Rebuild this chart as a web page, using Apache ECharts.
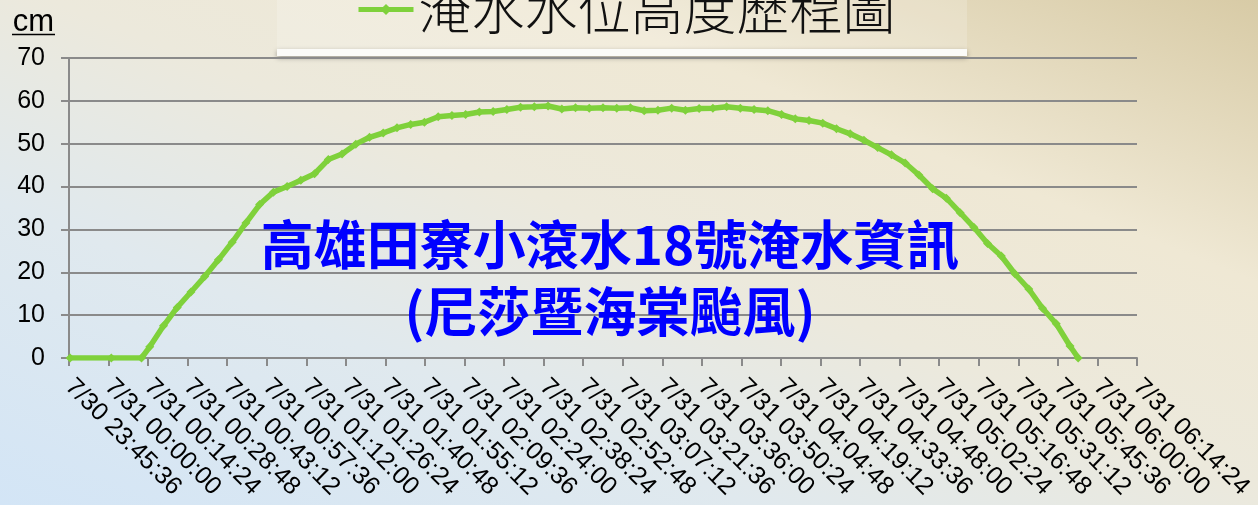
<!DOCTYPE html>
<html>
<head>
<meta charset="utf-8">
<script src="https://cdn.jsdelivr.net/npm/echarts@6/dist/echarts.min.js"></script>
<style>
  html, body { margin: 0; padding: 0; }
  #chart {
    width: 1258px; height: 505px;
    background: linear-gradient(to top right, #d3e5f6 0%, #e0e9ee 30%, #ece9dc 52%, #efe8d4 72%, #d8cba6 100%);
  }
</style>
</head>
<body>
<div id="chart"></div>
<script>
// Flood depth record at 小滾水 No.18, 田寮 district, Kaohsiung
const seriesName = '淹水水位高度歷程圖';
const unitLabel = 'cm';
const noteLines = ['高雄田寮小滾水18號淹水資訊', '(尼莎暨海棠颱風)'];

const yTickLabels = [0, 10, 20, 30, 40, 50, 60, 70];

const xTickLabels = [
  '7/30 23:45:36', '7/31 00:00:00', '7/31 00:14:24', '7/31 00:28:48', '7/31 00:43:12',
  '7/31 00:57:36', '7/31 01:12:00', '7/31 01:26:24', '7/31 01:40:48', '7/31 01:55:12',
  '7/31 02:09:36', '7/31 02:24:00', '7/31 02:38:24', '7/31 02:52:48', '7/31 03:07:12',
  '7/31 03:21:36', '7/31 03:36:00', '7/31 03:50:24', '7/31 04:04:48', '7/31 04:19:12',
  '7/31 04:33:36', '7/31 04:48:00', '7/31 05:02:24', '7/31 05:16:48', '7/31 05:31:12',
  '7/31 05:45:36', '7/31 06:00:00', '7/31 06:14:24'
];

// reading times
const times = [
  '7/30 23:46', '7/31 00:01', '7/31 00:12',
  '7/31 00:15', '7/31 00:20', '7/31 00:25', '7/31 00:30', '7/31 00:35', '7/31 00:40', '7/31 00:45', '7/31 00:50', '7/31 00:55',
  '7/31 01:00', '7/31 01:05', '7/31 01:10', '7/31 01:15', '7/31 01:20', '7/31 01:25', '7/31 01:30', '7/31 01:35', '7/31 01:40', '7/31 01:45', '7/31 01:50', '7/31 01:55',
  '7/31 02:00', '7/31 02:05', '7/31 02:10', '7/31 02:15', '7/31 02:20', '7/31 02:25', '7/31 02:30', '7/31 02:35', '7/31 02:40', '7/31 02:45', '7/31 02:50', '7/31 02:55',
  '7/31 03:00', '7/31 03:05', '7/31 03:10', '7/31 03:15', '7/31 03:20', '7/31 03:25', '7/31 03:30', '7/31 03:35', '7/31 03:40', '7/31 03:45', '7/31 03:50', '7/31 03:55',
  '7/31 04:00', '7/31 04:05', '7/31 04:10', '7/31 04:15', '7/31 04:20', '7/31 04:25', '7/31 04:30', '7/31 04:35', '7/31 04:40', '7/31 04:45', '7/31 04:50', '7/31 04:55',
  '7/31 05:00', '7/31 05:05', '7/31 05:10', '7/31 05:15', '7/31 05:20', '7/31 05:25', '7/31 05:30', '7/31 05:35', '7/31 05:40', '7/31 05:45', '7/31 05:50',
  '7/31 05:53'
];

// water depth (cm)
const levels = [
  0, 0, 0,
  2.6, 7.5, 11.8, 15.4, 19.0, 22.9, 27.0, 31.5, 35.8,
  38.7, 40.0, 41.5, 43.0, 46.3, 47.6, 49.9, 51.5, 52.5, 53.7, 54.5, 55.0,
  56.3, 56.6, 56.8, 57.4, 57.5, 58.0, 58.5, 58.6, 58.8, 58.1, 58.4, 58.3,
  58.4, 58.3, 58.4, 57.7, 57.8, 58.3, 57.8, 58.2, 58.3, 58.6, 58.3, 58.0,
  57.7, 56.8, 55.8, 55.4, 54.8, 53.5, 52.3, 50.8, 49.1, 47.4, 45.5, 42.7,
  39.5, 37.3, 33.9, 30.5, 26.7, 23.8, 19.6, 16.1, 11.6, 8.0, 2.8,
  0
];

// seconds since 7/30 00:00:00
function toSeconds(s) {
  const [md, hms] = s.split(' ');
  const day = +md.split('/')[1];
  const p = hms.split(':').map(Number);
  return (day - 30) * 86400 + p[0] * 3600 + p[1] * 60 + (p[2] || 0);
}

const xMin = toSeconds(xTickLabels[0]);
const xStep = toSeconds(xTickLabels[1]) - xMin;
const xMax = toSeconds(xTickLabels[xTickLabels.length - 1]);
const seriesData = times.map((t, i) => [toSeconds(t), levels[i]]);

const green = '#7fd13b';
const gridGray = '#8a8a8a';
const latin = 'Arial, "Liberation Sans", sans-serif';
const cjk = '"Noto Sans CJK TC", "Noto Sans CJK SC", sans-serif';

const chart = echarts.init(document.getElementById('chart'), null, { renderer: 'canvas' });
chart.setOption({
  animation: false,
  backgroundColor: 'transparent',
  grid: { left: 69, right: 121, top: 58, bottom: 147, containLabel: false },
  legend: {
    data: [seriesName],
    left: 356, top: -17, padding: 0,
    itemWidth: 55, itemHeight: 14, itemGap: 10,
    lineStyle: { width: 5 },
    textStyle: { fontFamily: cjk, fontSize: 53, fontWeight: 300, color: '#111' }
  },
  xAxis: {
    type: 'value',
    min: xMin, max: xMax, interval: xStep,
    axisLine: { show: true, lineStyle: { color: gridGray, width: 2 } },
    axisTick: { show: true, length: 8, lineStyle: { color: gridGray, width: 2 } },
    splitLine: { show: false },
    axisLabel: {
      rotate: -45, margin: 25,
      fontFamily: latin, fontSize: 25, color: '#000',
      formatter: v => xTickLabels[Math.round((v - xMin) / xStep)] || ''
    }
  },
  yAxis: {
    type: 'value',
    min: yTickLabels[0], max: yTickLabels[yTickLabels.length - 1],
    interval: yTickLabels[1] - yTickLabels[0],
    name: unitLabel, nameLocation: 'end', nameGap: 20,
    nameTextStyle: { fontFamily: latin, fontSize: 31, color: '#000', align: 'right', padding: [0, 15, 0, 0] },
    axisLine: { show: true, lineStyle: { color: gridGray, width: 2 } },
    axisTick: { show: true, length: 8, lineStyle: { color: gridGray, width: 2 } },
    splitLine: { show: true, lineStyle: { color: gridGray, width: 2 } },
    axisLabel: { margin: 24, fontFamily: latin, fontSize: 25, color: '#000' }
  },
  series: [{
    name: seriesName,
    type: 'line',
    data: seriesData,
    symbol: 'diamond', symbolSize: 9, showSymbol: true,
    lineStyle: { color: green, width: 5.5 },
    itemStyle: { color: green },
    z: 3
  }],
  graphic: [
    // heading panel behind the legend
    { type: 'rect', z: -1, shape: { x: 277, y: -10, width: 690, height: 60 },
      style: { fill: 'rgba(255,255,255,0.18)' } },
    { type: 'rect', z: -1, shape: { x: 277, y: 49, width: 690, height: 7 },
      style: { fill: '#fbfbf8', shadowBlur: 5, shadowOffsetY: 2, shadowColor: 'rgba(0,0,0,0.35)' } },
    // underline of the unit label
    { type: 'line', shape: { x1: 12, y1: 34.5, x2: 55, y2: 34.5 },
      style: { stroke: '#000', lineWidth: 1.5 } },
    // note text
    { type: 'text', z: 10, x: 610, y: 245,
      style: { text: noteLines[0], font: 'bold 53px ' + cjk, fill: '#0000ff',
               align: 'center', verticalAlign: 'middle', textAlign: 'center', textVerticalAlign: 'middle' } },
    { type: 'text', z: 10, x: 610, y: 312,
      style: { text: noteLines[1], font: 'bold 53px ' + cjk, fill: '#0000ff',
               align: 'center', verticalAlign: 'middle', textAlign: 'center', textVerticalAlign: 'middle' } }
  ]
});
</script>
</body>
</html>
